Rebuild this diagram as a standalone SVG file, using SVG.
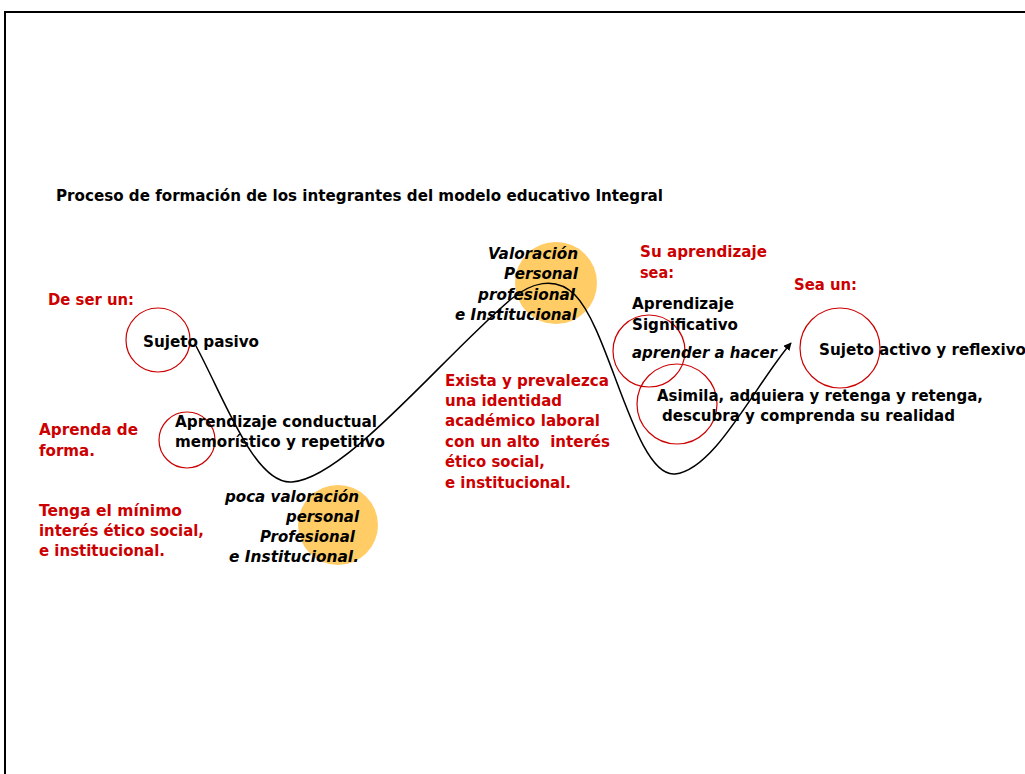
<svg xmlns="http://www.w3.org/2000/svg" width="1025" height="774" viewBox="0 0 1025 774">
<style>
.t{font-family:"DejaVu Sans","Verdana",sans-serif;font-weight:bold;font-size:16.5px;fill:#000}
.r{fill:#CC0000}
.i{font-style:italic}
.rc{fill:none;stroke:#CC0000;stroke-width:1.2}
.oc{fill:#FFCC66;stroke:none}
</style>
<defs>
<marker id="ah" viewBox="0 0 10 10" refX="9" refY="5" markerWidth="8" markerHeight="8" markerUnits="userSpaceOnUse" orient="auto">
<path d="M0,0 L10,5 L0,10 z" fill="#000"/>
</marker>
</defs>
<rect x="0" y="0" width="1025" height="774" fill="#fff"/>
<rect x="5" y="12" width="1030" height="780" fill="none" stroke="#000" stroke-width="2"/>
<text class="t" x="56" y="201" font-size="15" textLength="607" lengthAdjust="spacingAndGlyphs">Proceso de formación de los integrantes del modelo educativo Integral</text>
<g id="orange-circles">
<circle class="oc" cx="556" cy="283" r="41"/>
<circle class="oc" cx="338" cy="525" r="40"/>
</g>
<g id="n-sujeto-pasivo">
<circle class="rc" cx="158" cy="340" r="32"/>
<text class="t" x="143" y="347" textLength="116" lengthAdjust="spacingAndGlyphs">Sujeto pasivo</text>
</g>
<g id="n-de-ser">
<text class="t r" x="48" y="305" textLength="86" lengthAdjust="spacingAndGlyphs">De ser un:</text>
</g>
<g id="n-aprenda">
<text class="t r" x="39" y="435" textLength="99" lengthAdjust="spacingAndGlyphs">Aprenda de</text>
<text class="t r" x="39" y="456" textLength="56" lengthAdjust="spacingAndGlyphs">forma.</text>
</g>
<g id="n-conductual">
<circle class="rc" cx="187" cy="440" r="28"/>
<text class="t" x="175" y="427" textLength="202" lengthAdjust="spacingAndGlyphs">Aprendizaje conductual</text>
<text class="t" x="175" y="447" textLength="210" lengthAdjust="spacingAndGlyphs">memorístico y repetitivo</text>
</g>
<g id="n-tenga">
<text class="t r" x="39" y="516" textLength="143" lengthAdjust="spacingAndGlyphs">Tenga el mínimo</text>
<text class="t r" x="39" y="536" textLength="165" lengthAdjust="spacingAndGlyphs">interés ético social,</text>
<text class="t r" x="39" y="556" textLength="126" lengthAdjust="spacingAndGlyphs">e institucional.</text>
</g>
<g id="n-poca">
<text class="t i" x="359" y="502" text-anchor="end" textLength="134" lengthAdjust="spacingAndGlyphs">poca valoración</text>
<text class="t i" x="359" y="522" text-anchor="end" textLength="73" lengthAdjust="spacingAndGlyphs">personal</text>
<text class="t i" x="355" y="542" text-anchor="end" textLength="95" lengthAdjust="spacingAndGlyphs">Profesional</text>
<text class="t i" x="359" y="562" text-anchor="end" textLength="130" lengthAdjust="spacingAndGlyphs">e Institucional.</text>
</g>
<g id="n-valoracion">
<text class="t i" x="578" y="259" text-anchor="end" textLength="90" lengthAdjust="spacingAndGlyphs">Valoración</text>
<text class="t i" x="578" y="279" text-anchor="end" textLength="74" lengthAdjust="spacingAndGlyphs">Personal</text>
<text class="t i" x="575" y="300" text-anchor="end" textLength="97" lengthAdjust="spacingAndGlyphs">profesional</text>
<text class="t i" x="577" y="320" text-anchor="end" textLength="122" lengthAdjust="spacingAndGlyphs">e Institucional</text>
</g>
<g id="n-exista">
<text class="t r" x="445" y="386" textLength="164" lengthAdjust="spacingAndGlyphs">Exista y prevalezca</text>
<text class="t r" x="445" y="406" textLength="117" lengthAdjust="spacingAndGlyphs">una identidad</text>
<text class="t r" x="445" y="426" textLength="155" lengthAdjust="spacingAndGlyphs">académico laboral</text>
<text class="t r" x="445" y="447" textLength="165" lengthAdjust="spacingAndGlyphs">con un alto&#160; interés</text>
<text class="t r" x="445" y="467" textLength="100" lengthAdjust="spacingAndGlyphs">ético social,</text>
<text class="t r" x="445" y="488" textLength="126" lengthAdjust="spacingAndGlyphs">e institucional.</text>
</g>
<g id="n-su-aprendizaje">
<text class="t r" x="640" y="257" textLength="127" lengthAdjust="spacingAndGlyphs">Su aprendizaje</text>
<text class="t r" x="640" y="278" textLength="34" lengthAdjust="spacingAndGlyphs">sea:</text>
</g>
<g id="n-significativo">
<circle class="rc" cx="649" cy="351" r="36"/>
<text class="t" x="632" y="309" textLength="102" lengthAdjust="spacingAndGlyphs">Aprendizaje</text>
<text class="t" x="632" y="330" textLength="106" lengthAdjust="spacingAndGlyphs">Significativo</text>
<text class="t i" x="632" y="358" textLength="145" lengthAdjust="spacingAndGlyphs">aprender a hacer</text>
</g>
<g id="n-asimila">
<circle class="rc" cx="677" cy="404" r="40"/>
<text class="t" x="657" y="401" textLength="326" lengthAdjust="spacingAndGlyphs">Asimila, adquiera y retenga y retenga,</text>
<text class="t" x="662" y="421" textLength="293" lengthAdjust="spacingAndGlyphs">descubra y comprenda su realidad</text>
</g>
<g id="n-sea-un">
<text class="t r" x="794" y="290" textLength="63" lengthAdjust="spacingAndGlyphs">Sea un:</text>
</g>
<g id="n-sujeto-activo">
<circle class="rc" cx="840" cy="348" r="40"/>
<text class="t" x="819" y="355" textLength="207" lengthAdjust="spacingAndGlyphs">Sujeto activo y reflexivo</text>
</g>
<g id="connectors">
<path d="M196,346 C225,400 255,485 292,482 C345,478 440,360 510,300 C530,283 555,275 575,295 C610,330 635,478 675,474 C715,470 755,385 791,343" fill="none" stroke="#000" stroke-width="1.5" marker-end="url(#ah)"/>
</g>
</svg>
